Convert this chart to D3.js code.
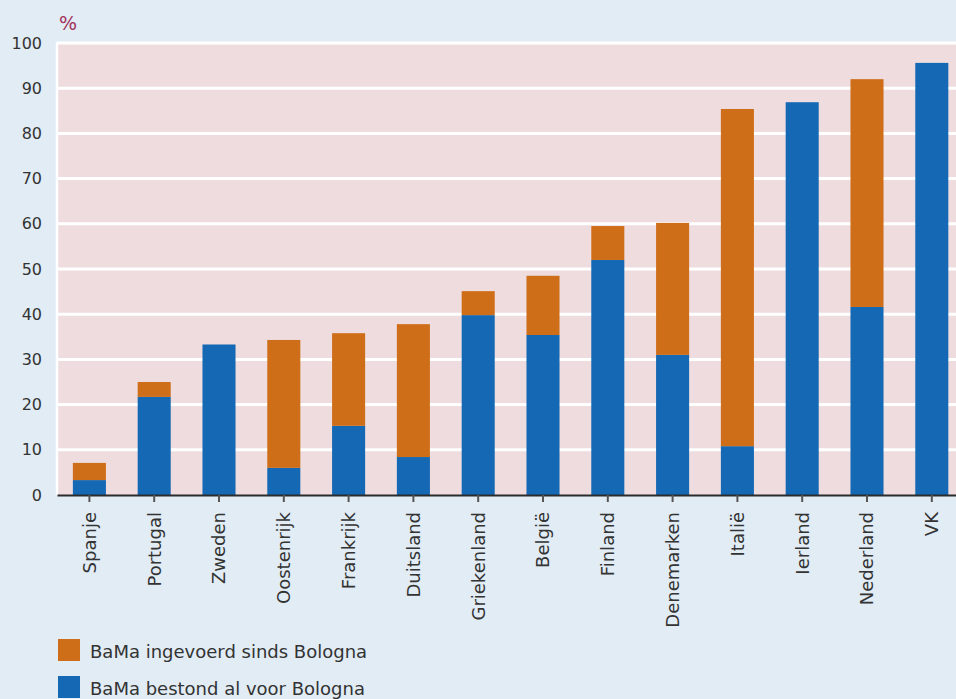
<!DOCTYPE html>
<html>
<head>
<meta charset="utf-8">
<script src="https://cdn.jsdelivr.net/npm/d3@7"></script>
<style>
  body { margin: 0; background: #e1ecf5; }
  svg { display: block; }
</style>
</head>
<body>
<div id="chart"></div>
<script>
// data
const countries = ["Spanje", "Portugal", "Zweden", "Oostenrijk", "Frankrijk", "Duitsland", "Griekenland",
    "België", "Finland", "Denemarken", "Italië", "Ierland", "Nederland", "VK"];
const alVoor = [3.3, 21.7, 33.3, 6.0, 15.3, 8.4, 39.8, 35.4, 52.0, 31.0, 10.8, 86.9, 41.6, 95.6];
const sindsBologna = [3.8, 3.3, 0, 28.3, 20.5, 29.4, 5.3, 13.1, 7.5, 29.2, 74.6, 0, 50.4, 0];
const yTicks = [0, 10, 20, 30, 40, 50, 60, 70, 80, 90, 100];
const seriesNames = ["BaMa ingevoerd sinds Bologna", "BaMa bestond al voor Bologna"];

const canvW = 956, canvH = 699;
const margin = {top: 42, left: 57, bottom: 204};
const plotW = 14 * 64.8;
const plotH = canvH - margin.top - margin.bottom;

const colOrange = "#cf6e19", colBlue = "#1569b4";
const font = "'DejaVu Sans', sans-serif";
const textCol = "#333";

const svg = d3.select("#chart")
    .append("svg")
    .attr("width", canvW)
    .attr("height", canvH);

svg.append("rect")
    .attr("width", canvW).attr("height", canvH)
    .attr("fill", "#e1ecf5");

const g = svg.append("g")
    .attr("transform", `translate(${margin.left},${margin.top})`);

const x = d3.scaleBand()
    .domain(countries)
    .range([0, plotW])
    .paddingInner(0.49)
    .paddingOuter(0.245);

const y = d3.scaleLinear()
    .domain([0, 100])
    .range([plotH, 1]);

// plot background
g.append("rect")
    .attr("width", plotW)
    .attr("height", plotH)
    .attr("fill", "#eedcdf");

// gridlines
g.selectAll(".grid")
    .data(yTicks.filter(t => t > 0))
    .join("line")
    .attr("x1", 0).attr("x2", plotW)
    .attr("y1", d => y(d)).attr("y2", d => y(d))
    .attr("stroke", "#fff")
    .attr("stroke-width", 3);

g.append("line")
    .attr("x1", 0).attr("x2", 0)
    .attr("y1", 0).attr("y2", plotH)
    .attr("stroke", "#fff")
    .attr("stroke-width", 2.5);

// stacked bars
const rows = countries.map((c, i) => ({country: c, voor: alVoor[i], sinds: sindsBologna[i]}));
const stacked = d3.stack().keys(["voor", "sinds"])(rows);
const colors = {voor: colBlue, sinds: colOrange};

g.selectAll(".layer")
    .data(stacked)
    .join("g")
    .attr("fill", d => colors[d.key])
    .selectAll("rect")
    .data(d => d)
    .join("rect")
    .attr("x", d => x(d.data.country))
    .attr("width", x.bandwidth())
    .attr("y", d => y(d[1]))
    .attr("height", d => y(d[0]) - y(d[1]));

// x axis
const xAxis = g.append("g")
    .attr("transform", `translate(0,${plotH})`)
    .call(d3.axisBottom(x).tickSize(7).tickSizeOuter(0));
xAxis.select(".domain").attr("stroke", "#2b2b2b").attr("stroke-width", 2);
xAxis.selectAll(".tick line").attr("stroke", "#555").attr("stroke-width", 2);
xAxis.selectAll("text")
    .attr("font-family", font)
    .attr("font-size", 18)
    .attr("fill", textCol)
    .attr("transform", "rotate(-90)")
    .attr("x", -17)
    .attr("y", 0)
    .attr("dy", "0.35em")
    .style("text-anchor", "end");

// y axis
const yAxis = g.append("g")
    .call(d3.axisLeft(y).tickValues(yTicks).tickSize(0).tickPadding(15));
yAxis.select(".domain").remove();
yAxis.selectAll("text")
    .attr("font-family", font)
    .attr("font-size", 16)
    .attr("fill", textCol);

// unit label
svg.append("text")
    .attr("x", 59).attr("y", 30)
    .attr("font-family", font)
    .attr("font-size", 19)
    .attr("fill", "#a3335b")
    .text("%");

// legend
const legend = svg.append("g")
    .attr("transform", "translate(58,639)");
legend.selectAll("rect")
    .data([colOrange, colBlue])
    .join("rect")
    .attr("x", 0)
    .attr("y", (d, i) => i * 37)
    .attr("width", 22).attr("height", 22)
    .attr("fill", d => d);
legend.selectAll("text")
    .data(seriesNames)
    .join("text")
    .attr("x", 32)
    .attr("y", (d, i) => i * 37 + 19)
    .attr("font-family", font)
    .attr("font-size", 18)
    .attr("fill", textCol)
    .text(d => d);
</script>
</body>
</html>
